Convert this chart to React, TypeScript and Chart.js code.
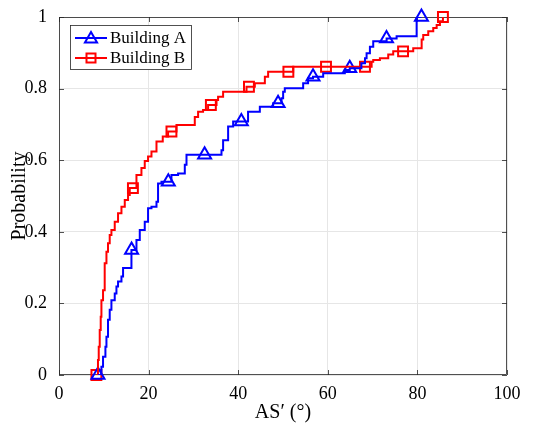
import { useEffect, useRef } from 'react';
import { Chart, registerables } from 'chart.js';

Chart.register(...registerables);

// ---- data ----
const xTicks = [0, 20, 40, 60, 80, 100];
const yTicks = [0, 0.2, 0.4, 0.6, 0.8, 1];
const yTickLabels = ['0', '0.2', '0.4', '0.6', '0.8', '1'];

const seriesNames = ['Building A', 'Building B'];

const buildingAX = [8.7, 9.47, 9.83, 10.36, 10.59, 10.94, 11.32, 11.7, 12.44, 12.82, 13.18, 13.94, 14.3, 16.17, 17.29, 18.03, 19.14, 19.88, 20.64, 21.76, 22.11, 22.87, 25.1, 26.58, 28.08, 28.46, 36.27, 36.63, 37.75, 38.87, 42.2, 44.83, 47.8, 49.68, 50.03, 50.4, 54.5, 55.6, 56.7, 58.97, 63.8, 64.9, 67.5, 68.3, 68.66, 69.4, 70.14, 73.13, 75.36, 79.83, 80.9];
const buildingAP = [0, 0.023, 0.051, 0.079, 0.107, 0.154, 0.182, 0.209, 0.228, 0.247, 0.261, 0.275, 0.299, 0.349, 0.377, 0.405, 0.428, 0.466, 0.47, 0.484, 0.535, 0.54, 0.559, 0.563, 0.587, 0.615, 0.628, 0.656, 0.694, 0.708, 0.735, 0.749, 0.759, 0.773, 0.791, 0.801, 0.815, 0.829, 0.833, 0.843, 0.852, 0.857, 0.871, 0.885, 0.899, 0.917, 0.932, 0.94, 0.946, 1.0, 1.0];

const buildingBX = [8.35, 8.7, 8.87, 9.09, 9.31, 9.47, 9.83, 10.2, 10.59, 10.94, 11.32, 11.7, 12.44, 13.18, 13.94, 14.68, 15.41, 15.79, 17.29, 18.4, 19.14, 19.88, 20.64, 21.76, 23.16, 24.35, 26.22, 30.31, 31.05, 32.16, 33.28, 35.16, 35.51, 36.63, 41.86, 43.71, 45.95, 46.68, 52.27, 69.78, 70.14, 71.63, 73.49, 74.6, 79.07, 80.95, 81.3, 82.42, 83.54, 84.3, 85.03, 85.7];
const buildingBP = [0, 0.042, 0.079, 0.126, 0.163, 0.209, 0.237, 0.312, 0.344, 0.368, 0.391, 0.405, 0.428, 0.452, 0.47, 0.489, 0.503, 0.522, 0.559, 0.578, 0.598, 0.61, 0.624, 0.652, 0.666, 0.68, 0.698, 0.721, 0.735, 0.74, 0.754, 0.768, 0.777, 0.791, 0.805, 0.815, 0.833, 0.847, 0.861, 0.875, 0.88, 0.885, 0.895, 0.904, 0.913, 0.937, 0.95, 0.96, 0.969, 0.978, 0.988, 1.0];

const markerAX = [8.7, 16.2, 24.4, 32.5, 40.7, 48.9, 56.7, 64.9, 73.1, 80.9];
const markerAP = [0, 0.349, 0.54, 0.615, 0.708, 0.759, 0.833, 0.857, 0.94, 1.0];
const markerBX = [8.35, 16.5, 25.1, 33.9, 42.4, 51.2, 59.6, 68.3, 76.8, 85.7];
const markerBP = [0, 0.522, 0.68, 0.754, 0.805, 0.847, 0.861, 0.861, 0.904, 1.0];

const xTitle = 'AS\u2032 (\u00B0)';
const yTitle = 'Probability';

const BLUE = '#0000ff';
const RED = '#ff0000';
const AXIS = '#262626';
const FONT = "'Liberation Serif', 'Times New Roman', serif";

const pts = (xs: number[], ys: number[]) => xs.map((x, i) => ({ x, y: ys[i] }));

function drawTri(ctx: CanvasRenderingContext2D, x: number, y: number, r: number) {
  ctx.beginPath();
  for (let k = 0; k < 3; k++) {
    const a = -Math.PI / 2 + (k * 2 * Math.PI) / 3;
    const px = x + Math.cos(a) * r;
    const py = y + Math.sin(a) * r;
    if (k === 0) ctx.moveTo(px, py);
    else ctx.lineTo(px, py);
  }
  ctx.closePath();
  ctx.stroke();
}

const framePlugin = {
  id: 'frame',
  beforeDatasetsDraw(chart: any) {
    const { ctx, chartArea } = chart;
    const { left, right, top, bottom } = chartArea;
    const xs = chart.scales.x;
    const ys = chart.scales.y;
    const tl = 5;
    ctx.save();
    ctx.strokeStyle = AXIS;
    ctx.lineWidth = 0.8;
    ctx.beginPath();
    xTicks.forEach((t) => {
      const px = Math.round(xs.getPixelForValue(t)) + 0.5;
      ctx.moveTo(px, bottom);
      ctx.lineTo(px, bottom - tl);
      ctx.moveTo(px, top);
      ctx.lineTo(px, top + tl);
    });
    yTicks.forEach((t) => {
      const py = Math.round(ys.getPixelForValue(t)) + 0.5;
      ctx.moveTo(left, py);
      ctx.lineTo(left + tl, py);
      ctx.moveTo(right, py);
      ctx.lineTo(right - tl, py);
    });
    ctx.stroke();
    ctx.strokeRect(left + 0.5, top + 0.5, right - left - 1, bottom - top - 1);
    ctx.restore();
  },
};

const legendPlugin = {
  id: 'customLegend',
  afterDraw(chart: any) {
    const { ctx } = chart;
    const bx = 70.5, by = 25.5, bw = 121, bh = 44;
    ctx.save();
    ctx.fillStyle = '#ffffff';
    ctx.fillRect(bx, by, bw, bh);
    ctx.strokeStyle = AXIS;
    ctx.lineWidth = 0.8;
    ctx.strokeRect(bx, by, bw, bh);
    const rows = [
      { y: 38, color: BLUE, kind: 'tri', name: seriesNames[0] },
      { y: 58, color: RED, kind: 'sq', name: seriesNames[1] },
    ];
    rows.forEach((r) => {
      ctx.strokeStyle = r.color;
      ctx.lineWidth = 2;
      ctx.beginPath();
      ctx.moveTo(75, r.y);
      ctx.lineTo(107, r.y);
      ctx.stroke();
      if (r.kind === 'tri') drawTri(ctx, 91, r.y + 1, 7);
      else ctx.strokeRect(91 - 4.5, r.y - 4.5, 9, 9);
      ctx.fillStyle = '#000000';
      ctx.font = `17px ${FONT}`;
      ctx.textBaseline = 'middle';
      ctx.textAlign = 'left';
      ctx.fillText(r.name, 110, r.y + 1);
    });
    ctx.restore();
  },
};

export default function App() {
  const ref = useRef<HTMLCanvasElement>(null);
  useEffect(() => {
    const canvas = ref.current;
    if (!canvas) return;
    const chart = new Chart(canvas, {
      type: 'scatter',
      data: {
        datasets: [
          {
            label: seriesNames[0],
            data: pts(buildingAX, buildingAP),
            showLine: true,
            stepped: 'before',
            borderColor: BLUE,
            borderWidth: 2,
            pointRadius: 0,
            fill: false,
          },
          {
            label: seriesNames[1],
            data: pts(buildingBX, buildingBP),
            showLine: true,
            stepped: 'before',
            borderColor: RED,
            borderWidth: 2,
            pointRadius: 0,
            fill: false,
          },
          {
            label: seriesNames[0] + ' markers',
            data: pts(markerAX, markerAP),
            showLine: false,
            pointStyle: 'triangle',
            pointRadius: 7.5,
            pointBorderWidth: 2,
            pointBorderColor: BLUE,
            pointBackgroundColor: 'rgba(0,0,0,0)',
            clip: false,
          } as any,
          {
            label: seriesNames[1] + ' markers',
            data: pts(markerBX, markerBP),
            showLine: false,
            pointStyle: 'rect',
            pointRadius: 7,
            pointBorderWidth: 2,
            pointBorderColor: RED,
            pointBackgroundColor: 'rgba(0,0,0,0)',
            clip: false,
          } as any,
        ],
      },
      options: {
        animation: false,
        responsive: false,
        events: [],
        layout: { padding: { left: 0, right: 34, top: 17, bottom: 0 } },
        plugins: {
          legend: { display: false },
          tooltip: { enabled: false },
        },
        scales: {
          x: {
            type: 'linear',
            min: 0,
            max: 100,
            afterFit: (s: any) => { s.height = 58; s.paddingLeft = 0; s.paddingRight = 0; },
            afterBuildTicks: (s: any) => { s.ticks = xTicks.map((v) => ({ value: v })); },
            grid: { color: '#e6e6e6', lineWidth: 1, drawTicks: false },
            border: { display: false },
            ticks: {
              padding: 8,
              color: '#000000',
              font: { family: FONT, size: 18 },
              callback: (v: any) => String(v),
            },
            title: {
              display: true,
              text: xTitle,
              color: '#000000',
              font: { family: FONT, size: 20 },
              padding: { top: 8, bottom: 8 },
            },
          },
          y: {
            type: 'linear',
            min: 0,
            max: 1,
            afterFit: (s: any) => { s.width = 59; s.paddingTop = 0; s.paddingBottom = 0; },
            afterBuildTicks: (s: any) => { s.ticks = yTicks.map((v) => ({ value: v })); },
            grid: { color: '#e6e6e6', lineWidth: 1, drawTicks: false },
            border: { display: false },
            ticks: {
              padding: 12,
              color: '#000000',
              font: { family: FONT, size: 18 },
              callback: (v: any) => {
                const i = yTicks.findIndex((t) => Math.abs(t - v) < 1e-9);
                return i >= 0 ? yTickLabels[i] : '';
              },
            },
            title: {
              display: true,
              text: yTitle,
              color: '#000000',
              font: { family: FONT, size: 20 },
              padding: { top: 8, bottom: 8 },
            },
          },
        },
      },
      plugins: [framePlugin, legendPlugin],
    });
    return () => chart.destroy();
  }, []);
  return (
    <div style={{ position: 'fixed', left: 0, top: 0, width: 541, height: 433, background: '#ffffff' }}>
      <canvas ref={ref} width={541} height={433} style={{ display: 'block', width: 541, height: 433 }} />
    </div>
  );
}
